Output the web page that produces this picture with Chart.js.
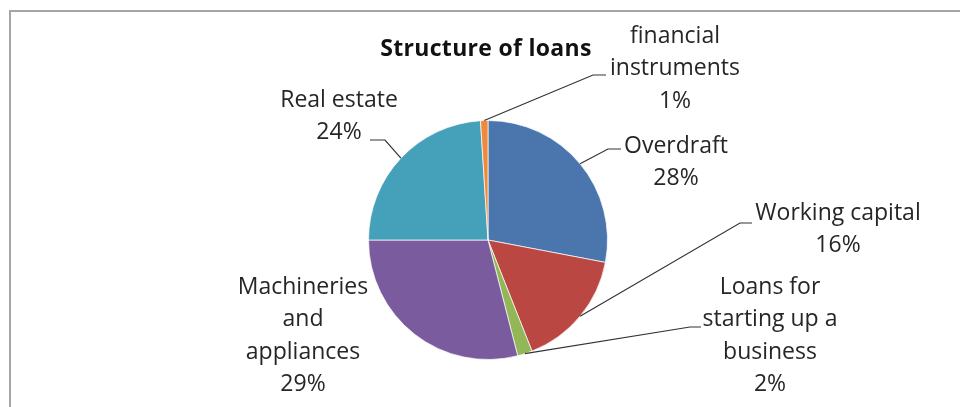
<!DOCTYPE html>
<html>
<head>
<meta charset="utf-8">
<script src="https://cdn.jsdelivr.net/npm/chart.js"></script>
<style>
  html, body { margin: 0; padding: 0; background: #fff; }
  #wrap { position: relative; width: 960px; height: 407px; overflow: hidden; }
  #frame { position: absolute; left: 9px; top: 10px; right: -5px; bottom: -5px;
           border-top: 2px solid #a6a6a6; border-left: 2px solid #a6a6a6; }
  canvas { position: absolute; left: 0; top: 0; }
</style>
</head>
<body>
<div id="wrap">
  <div id="frame"></div>
  <canvas id="chart" width="960" height="407"></canvas>
</div>
<script>
// === Données ===
const categories = [
  ["Overdraft"],
  ["Working capital"],
  ["Loans for", "starting up a", "business"],
  ["Machineries", "and", "appliances"],
  ["Real estate"],
  ["financial", "instruments"]
];
const values = [28, 16, 2, 29, 24, 1];
const colors = ["#4a76ad", "#bb4743", "#93b656", "#7a5c9e", "#45a0b9", "#ee8a3c"];

// position des étiquettes (centre x, y de la 1re ligne) et coude de la ligne de rappel
const labelLayout = [
  { x: 676, y: 146, elbow: [608, 149], end: [621, 149] },
  { x: 838, y: 213, elbow: [740, 223], end: [752, 223] },
  { x: 770, y: 287, elbow: [690, 327], end: [701, 327] },
  { x: 303, y: 287 },
  { x: 339, y: 100, elbow: [385, 140], end: [370, 140] },
  { x: 675, y: 36, elbow: [593, 75], end: [606, 75] }
];

const lineH = 32.5;

const pieLabels = {
  id: "pieLabels",
  afterDraw(chart) {
    const ctx = chart.ctx;
    const arcs = chart.getDatasetMeta(0).data;
    ctx.save();

    // titre
    ctx.fillStyle = "#111";
    ctx.font = "bold 23px 'Open Sans'";
    ctx.letterSpacing = "0.3px";
    ctx.textAlign = "center";
    ctx.textBaseline = "middle";
    ctx.fillText("Structure of loans", 486, 49);
    ctx.letterSpacing = "0px";

    ctx.font = "23px 'Open Sans'";
    ctx.fillStyle = "#262626";
    ctx.strokeStyle = "#333";
    ctx.lineWidth = 1.2;

    arcs.forEach((arc, i) => {
      const lay = labelLayout[i];
      const lines = categories[i].concat([values[i] + "%"]);
      lines.forEach((t, k) => ctx.fillText(t, lay.x, lay.y + k * lineH));

      if (lay.elbow) {
        const mid = (arc.startAngle + arc.endAngle) / 2;
        const r = arc.outerRadius;
        const px = arc.x + Math.cos(mid) * r;
        const py = arc.y + Math.sin(mid) * r;
        ctx.beginPath();
        ctx.moveTo(px, py);
        ctx.lineTo(lay.elbow[0], lay.elbow[1]);
        ctx.lineTo(lay.end[0], lay.end[1]);
        ctx.stroke();
      }
    });
    ctx.restore();
  }
};

new Chart(document.getElementById("chart"), {
  type: "pie",
  data: {
    labels: categories.map(c => c.join(" ")),
    datasets: [{
      data: values,
      backgroundColor: colors,
      borderColor: "rgba(255,255,255,0.7)",
      borderWidth: 1
    }]
  },
  options: {
    responsive: false,
    animation: false,
    layout: { padding: { left: 368, right: 352, top: 120, bottom: 47 } },
    plugins: {
      legend: { display: false },
      tooltip: { enabled: false }
    }
  },
  plugins: [pieLabels]
});
</script>
</body>
</html>
